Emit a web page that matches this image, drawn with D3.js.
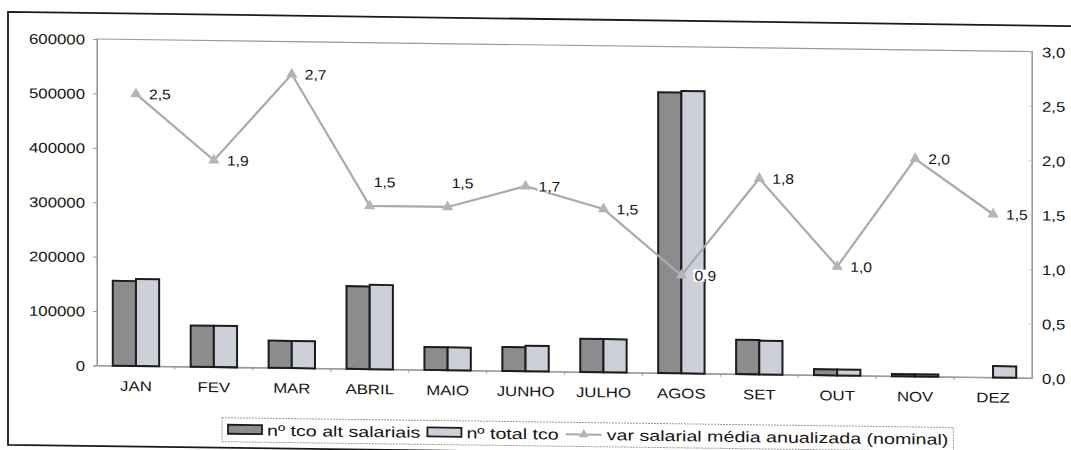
<!DOCTYPE html>
<html>
<head>
<meta charset="utf-8">
<script src="https://cdn.jsdelivr.net/npm/d3@7"></script>
<style>
  body { margin: 0; background: #fff; }
  svg { display: block; }
  text { font-family: "Liberation Sans", Arial, Helvetica, sans-serif; fill: #141414; }
</style>
</head>
<body>
<svg id="chart" width="1071" height="450"></svg>
<script>
// Monthly categories
const months = ["JAN", "FEV", "MAR", "ABRIL", "MAIO", "JUNHO", "JULHO", "AGOS", "SET", "OUT", "NOV", "DEZ"];
// Nº de trabalhadores por conta de outrem com alterações salariais
const altSalariais = [156000, 76000, 50000, 152000, 42000, 44000, 61000, 516000, 63000, 11000, 4000, 0];
// Nº total de trabalhadores por conta de outrem
const totalTco = [160000, 76000, 50000, 155000, 42000, 47000, 61000, 519000, 62000, 11000, 4000, 21000];
// Variação salarial média anualizada (nominal, %)
const varSalarial = [2.5, 1.9, 2.7, 1.5, 1.5, 1.7, 1.5, 0.9, 1.8, 1.0, 2.0, 1.5];
// Axis ticks
const countTicks = [0, 100000, 200000, 300000, 400000, 500000, 600000];
const rateTicks = [0, 0.5, 1.0, 1.5, 2.0, 2.5, 3.0];
// Legend entries
const seriesNames = ["nº tco alt salariais", "nº total tco", "var salarial média anualizada (nominal)"];

const svg = d3.select("#chart");
const plot = { left: 97, right: 1032, top: 39, bottom: 365.5 };
const skew = 0.0134;           // the whole sheet sits slightly tilted
const SX = 1.2;                // wide lettering on the axes

const pt = d3.formatLocale({ decimal: ",", thousands: ".", grouping: [3], currency: ["", ""] });
const fmtRate = pt.format(".1f");
const fmtCount = d3.format("d");

const root = svg.append("g")
  .attr("transform", `matrix(1,${skew},0,1,0,${-skew * plot.left})`);

// Outer frame (left, top, bottom edges)
root.append("path")
  .attr("d", `M1100,13 L8,13 L8,446 L1100,446`)
  .attr("fill", "none").attr("stroke", "#1a1a1a").attr("stroke-width", 1.8);

const x0 = d3.scaleBand().domain(months).range([plot.left, plot.right]).padding(0);
const x1 = d3.scaleBand().domain([0, 1]).range([0, x0.bandwidth()]).paddingInner(0).paddingOuter(0.68);
const yL = d3.scaleLinear().domain([0, 600000]).range([plot.bottom, plot.top]);
const yR = d3.scaleLinear().domain([0, 3]).range([plot.bottom, plot.top]);

// Plot area border
root.append("rect")
  .attr("x", plot.left).attr("y", plot.top)
  .attr("width", plot.right - plot.left).attr("height", plot.bottom - plot.top)
  .attr("fill", "none").attr("stroke", "#9a9a9a").attr("stroke-width", 1.2);

// Left axis
const axL = root.append("g").attr("transform", `translate(${plot.left},0)`)
  .call(d3.axisLeft(yL).tickValues(countTicks).tickFormat(fmtCount).tickSize(4).tickPadding(0));
axL.select(".domain").attr("stroke", "#9a9a9a");
axL.selectAll(".tick line").attr("stroke", "#9a9a9a");
axL.selectAll(".tick text")
  .attr("x", null).attr("dy", "0.36em")
  .attr("transform", `translate(-12,0) scale(${SX},1)`)
  .style("font-size", "14px").attr("fill", "#141414");

// Right axis
const axR = root.append("g").attr("transform", `translate(${plot.right},0)`)
  .call(d3.axisRight(yR).tickValues(rateTicks).tickFormat(fmtRate).tickSize(-3).tickPadding(0));
axR.select(".domain").attr("stroke", "#9a9a9a");
axR.selectAll(".tick line").attr("stroke", "#c4c4c4");
axR.selectAll(".tick text")
  .attr("x", null).attr("dy", "0.36em")
  .attr("transform", `translate(10,0) scale(${SX},1)`)
  .style("font-size", "14px").attr("fill", "#141414");

// Category axis
const axB = root.append("g").attr("transform", `translate(0,${plot.bottom})`)
  .call(d3.axisBottom(x0).tickSize(0).tickPadding(0));
axB.select(".domain").attr("stroke", "#9a9a9a");
axB.selectAll(".tick text")
  .attr("y", null).attr("dy", null)
  .attr("transform", `translate(0,25) scale(${SX},1)`)
  .style("font-size", "14px").attr("fill", "#141414");
axB.selectAll(".sep").data(months.slice(1)).join("line")
  .attr("class", "sep")
  .attr("x1", d => x0(d)).attr("x2", d => x0(d))
  .attr("y1", 0).attr("y2", 3)
  .attr("stroke", "#9a9a9a");

// Bars
const barSeries = [
  { values: altSalariais, fill: "#8c8c8f" },
  { values: totalTco, fill: "#cdd0d8" }
];
barSeries.forEach((s, si) => {
  root.append("g").selectAll("rect")
    .data(months.map((m, i) => ({ m, v: s.values[i] })).filter(d => d.v > 0))
    .join("rect")
    .attr("x", d => x0(d.m) + x1(si))
    .attr("y", d => yL(d.v))
    .attr("width", x1.bandwidth())
    .attr("height", d => yL(0) - yL(d.v))
    .attr("fill", s.fill)
    .attr("stroke", "#1c1c1c")
    .attr("stroke-width", 2);
});

// Line series
const lineData = months.map((m, i) => ({ m, v: varSalarial[i] }));
const cx = d => x0(d.m) + x0.bandwidth() / 2;
root.append("path")
  .datum(lineData)
  .attr("d", d3.line().x(cx).y(d => yR(d.v)))
  .attr("fill", "none").attr("stroke", "#a9a9b0").attr("stroke-width", 2.2);
root.append("g").selectAll("path")
  .data(lineData).join("path")
  .attr("transform", d => `translate(${cx(d)},${yR(d.v)})`)
  .attr("d", d3.symbol(d3.symbolTriangle, 55))
  .attr("fill", "#b3b3bb");

// Value labels on the line (a few sit above their marker), on a white patch
const liftedLabels = new Set(["ABRIL", "MAIO"]);
const vl = root.append("g").selectAll("g")
  .data(lineData).join("g")
  .attr("transform", d => liftedLabels.has(d.m)
    ? `translate(${cx(d) + 4},${yR(d.v) - 24})`
    : `translate(${cx(d) + 13},${yR(d.v)})`);
vl.append("rect")
  .attr("x", -1).attr("y", -6).attr("width", 24).attr("height", 12)
  .attr("fill", "#fff");
vl.append("text")
  .attr("transform", "scale(1.12,1)")
  .attr("dy", "0.36em")
  .style("font-size", "14px")
  .text(d => fmtRate(d.v));

// Legend
const LSX = 1.31;
const lg = root.append("g");
const lgY = 428;
let lx = 228;
lg.append("rect").attr("x", lx).attr("y", lgY - 5).attr("width", 34).attr("height", 9)
  .attr("fill", "#8c8c8f").attr("stroke", "#1c1c1c").attr("stroke-width", 1.8);
lx += 39;
function legendText(str) {
  const t = lg.append("text")
    .attr("transform", `translate(${lx},${lgY}) scale(${LSX},1)`)
    .attr("dy", "0.36em").style("font-size", "15px").text(str);
  lx += t.node().getComputedTextLength() * LSX;
  return t;
}
legendText(seriesNames[0]);
lx += 7;
lg.append("rect").attr("x", lx).attr("y", lgY - 5).attr("width", 34).attr("height", 9)
  .attr("fill", "#cdd0d8").attr("stroke", "#1c1c1c").attr("stroke-width", 1.8);
lx += 39;
legendText(seriesNames[1]);
lx += 7;
lg.append("line").attr("x1", lx).attr("x2", lx + 36).attr("y1", lgY).attr("y2", lgY)
  .attr("stroke", "#a9a9b0").attr("stroke-width", 2);
lg.append("path").attr("transform", `translate(${lx + 18},${lgY})`)
  .attr("d", d3.symbol(d3.symbolTriangle, 40)).attr("fill", "#b3b3bb");
lx += 41;
legendText(seriesNames[2]);
lx += 5;
lg.insert("rect", ":first-child")
  .attr("x", 222).attr("y", lgY - 12).attr("width", lx - 222).attr("height", 24)
  .attr("fill", "#fff").attr("stroke", "#9a9a9a").attr("stroke-width", 1)
  .attr("stroke-dasharray", "2,1");
</script>
</body>
</html>
